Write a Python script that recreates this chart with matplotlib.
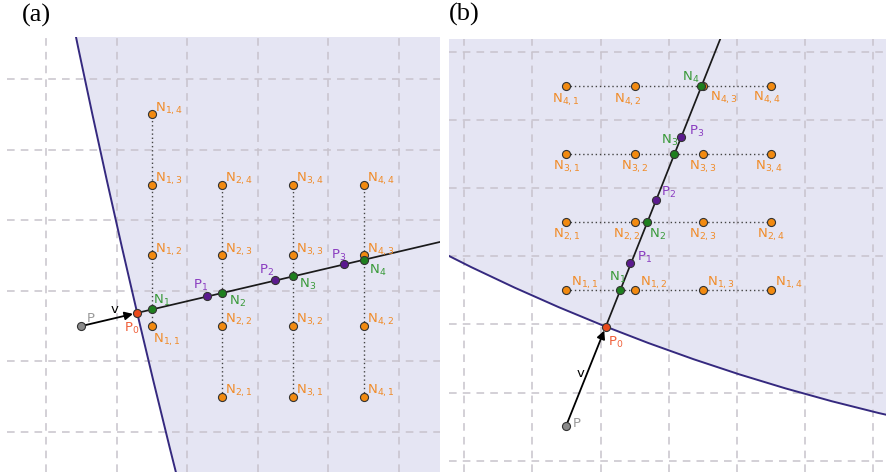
import matplotlib
matplotlib.use("Agg")
import matplotlib.pyplot as plt
from matplotlib.patches import Circle

plt.rcParams['font.family'] = 'DejaVu Sans'
plt.rcParams['mathtext.fontset'] = 'dejavusans'

# colours
c_shade = '#e5e5f3'
c_edge = '#35297f'
c_grid = '#c8c3cc'
c_orange = '#f28a10'
c_orange_t = '#f08c2a'
c_green = '#1f7f1f'
c_green_t = '#3a9a3a'
c_purple = '#5b1a8e'
c_purple_t = '#8a3cc0'
c_p0 = '#ea4a1c'
c_p0_t = '#f0603a'
c_p = '#8a8a8a'
c_p_t = '#9a9a9a'

# ---------- panel (a) data (grid units) ----------
a_p = (0.5, 1.5)
a_p0 = (1.29, 1.686)
a_ray_end = (6.0, 2.79)
a_n_x = [1.5, 2.5, 3.5, 4.5]
a_n_y = [1.735, 1.97, 2.205, 2.44]
a_pk_x = [2.28, 3.24, 4.22]
a_pk_y = [1.92, 2.15, 2.38]
a_col_x = [1.5, 2.5, 3.5, 4.5]
a_col_y = [[1.5, 2.5, 3.5, 4.5],
           [0.5, 1.5, 2.5, 3.5],
           [0.5, 1.5, 2.5, 3.5],
           [0.5, 1.5, 2.5, 3.5]]
a_circle = (155.1, 37.84, 158.0)  # centre x, centre y, radius

# ---------- panel (b) data ----------
b_p = (1.494, 0.51)
b_p0 = (2.077, 1.968)
b_ray_end = (4.0, 6.8)
b_n_x = [2.29, 2.68, 3.08, 3.48]
b_n_y = [2.5, 3.5, 4.5, 5.5]
b_pk_x = [2.44, 2.81, 3.18]
b_pk_y = [2.90, 3.825, 4.76]
b_row_y = [2.5, 3.5, 4.5, 5.5]
b_row_x = [1.5, 2.5, 3.5, 4.5]
b_circle = (12.81, 28.91, 29.0)

fig = plt.figure(figsize=(8.86, 4.72), dpi=100)
ax_a = fig.add_axes([7 / 886, 0, 433 / 886, 435 / 472])
ax_b = fig.add_axes([449 / 886, 0, 437 / 886, 433 / 472])
ax_a.set_xlim(-0.552, 5.581)
ax_a.set_ylim(-0.567, 5.595)
ax_b.set_xlim(-0.225, 6.192)
ax_b.set_ylim(-0.166, 6.192)


def setup(ax, circ, nx, ny):
    ax.axis('off')
    ax.add_patch(Circle(circ[:2], circ[2], facecolor=c_shade, edgecolor='none', zorder=0))
    ax.add_patch(Circle(circ[:2], circ[2], facecolor='none', edgecolor=c_edge, lw=1.4, zorder=3))
    for i in range(nx):
        ax.axvline(i, color=c_grid, lw=1.1, ls=(0, (5, 4)), zorder=1)
    for j in range(ny):
        ax.axhline(j, color=c_grid, lw=1.1, ls=(0, (5, 4)), zorder=1)


def point(ax, xy, fc, label, tc, off, ha='left', va='top'):
    ax.plot(xy[0], xy[1], 'o', ms=5.8, mfc=fc, mec='#333333', mew=0.8, zorder=6)
    ax.annotate(label, xy=xy, xytext=off, textcoords='offset pixels',
                color=tc, fontsize=9.5, ha=ha, va=va, zorder=7)


def ray(ax, p, p0, end, v_off):
    ax.plot([p0[0], end[0]], [p0[1], end[1]], color='#1a1a1a', lw=1.25, zorder=4)
    ax.annotate('', xy=p0, xytext=p,
                arrowprops=dict(arrowstyle='-|>', color='black', lw=1.3,
                                mutation_scale=12, shrinkA=0, shrinkB=3), zorder=4)
    ax.annotate('v', xy=p, xytext=v_off, textcoords='offset pixels',
                fontsize=9.5, va='baseline', ha='left', zorder=7)


# ---------- (a) ----------
setup(ax_a, a_circle, 6, 6)
ray(ax_a, a_p, a_p0, a_ray_end, (29, 13))
for c in range(4):
    ys = a_col_y[c]
    ax_a.plot([a_col_x[c]] * 2, [min(ys), max(ys)], color='#444444', lw=1.0,
              ls=(0, (1, 2)), zorder=2)
    for k in range(4):
        off = (1, -6) if (c == 0 and k == 0) else (3, 14)
        point(ax_a, (a_col_x[c], ys[k]), c_orange, f'N$_{{{c + 1},{k + 1}}}$', c_orange_t, off)
a_n_off = [(1, 17), (7, -1), (6, -1), (5, -3)]
for k in range(4):
    point(ax_a, (a_n_x[k], a_n_y[k]), c_green, f'N$_{{{k + 1}}}$', c_green_t, a_n_off[k])
a_pk_off = [(-14, 19), (-16, 17), (-13, 16)]
for k in range(3):
    point(ax_a, (a_pk_x[k], a_pk_y[k]), c_purple, f'P$_{{{k + 1}}}$', c_purple_t, a_pk_off[k])
point(ax_a, a_p0, c_p0, 'P$_0$', c_p0_t, (-13, -8))
point(ax_a, a_p, c_p, 'P', c_p_t, (5, 14))

# ---------- (b) ----------
setup(ax_b, b_circle, 7, 7)
ray(ax_b, b_p, b_p0, b_ray_end, (11, 49))
b_lab_off = [[(5, 16), (5, 16), (4, 16), (4, 16)],
             [(-13, -4), (-22, -4), (-14, -4), (-14, -4)],
             [(-13, -4), (-14, -4), (-14, -4), (-16, -4)],
             [(-14, -5), (-21, -5), (7, -3), (-18, -3)]]
for r in range(4):
    ax_b.plot([min(b_row_x), max(b_row_x)], [b_row_y[r]] * 2, color='#444444', lw=1.0,
              ls=(0, (1, 2)), zorder=2)
    for k in range(4):
        point(ax_b, (b_row_x[k], b_row_y[r]), c_orange, f'N$_{{{r + 1},{k + 1}}}$',
              c_orange_t, b_lab_off[r][k])
b_n_off = [(-11, 21), (2, -5), (-13, 21), (-19, 16)]
for k in range(4):
    point(ax_b, (b_n_x[k], b_n_y[k]), c_green, f'N$_{{{k + 1}}}$', c_green_t, b_n_off[k])
b_pk_off = [(7, 13), (5, 15), (8, 13)]
for k in range(3):
    point(ax_b, (b_pk_x[k], b_pk_y[k]), c_purple, f'P$_{{{k + 1}}}$', c_purple_t, b_pk_off[k])
point(ax_b, b_p0, c_p0, 'P$_0$', c_p0_t, (2, -8))
point(ax_b, b_p, c_p, 'P', c_p_t, (7, 9))

# panel letters
fig.text(22 / 886, 1 - 15 / 472, '(a)', family='Liberation Serif', fontsize=19, va='center', ha='left')
fig.text(449 / 886, 1 - 14 / 472, '(b)', family='Liberation Serif', fontsize=19, va='center', ha='left')

fig.savefig('out.png', dpi=100)
